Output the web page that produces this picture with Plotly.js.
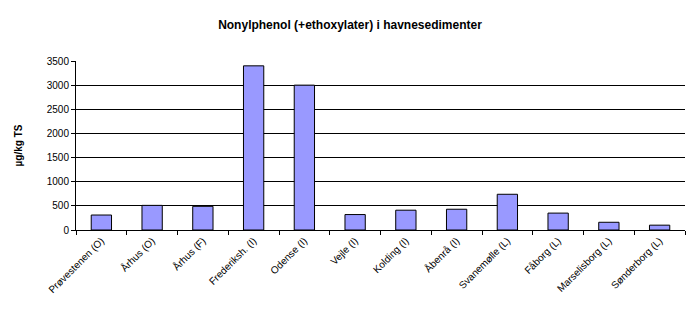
<!DOCTYPE html>
<html>
<head>
<meta charset="utf-8">
<script src="https://cdn.plot.ly/plotly-3.0.1.min.js"></script>
<style>html,body{margin:0;padding:0;background:#fff;}#chart{width:700px;height:315px;}</style>
</head>
<body>
<div id="chart"></div>
<script>
const categories = ["Prøvestenen (O)", "Århus (O)", "Århus (F)", "Frederiksh. (I)", "Odense (I)", "Vejle (I)", "Kolding (I)", "Åbenrå (I)", "Svanemølle (L)", "Fåborg (L)", "Marselisborg (L)", "Sønderborg (L)"];
const values = [310, 510, 490, 3400, 3000, 320, 410, 430, 740, 350, 160, 100];
const yTickVals = [0, 500, 1000, 1500, 2000, 2500, 3000, 3500];

const font = "Liberation Sans, Arial, sans-serif";
Plotly.newPlot("chart", [{
  type: "bar",
  x: categories,
  y: values,
  marker: {color: "#9999FF", line: {color: "#000000", width: 1}},
  hoverinfo: "none"
}], {
  width: 700, height: 315,
  margin: {l: 76, r: 15, t: 61, b: 85},
  paper_bgcolor: "#ffffff", plot_bgcolor: "#ffffff",
  bargap: 0.6,
  showlegend: false,
  title: {text: "<b>Nonylphenol (+ethoxylater) i havnesedimenter</b>", font: {family: font, size: 12, color: "#000"}, x: 0.5, xanchor: "center", y: 0.922, yanchor: "middle"},
  xaxis: {
    type: "category",
    tickangle: -45,
    tickfont: {family: font, size: 10, color: "#000"},
    ticks: "outside", ticklen: 4, tickcolor: "#000",
    tickson: "boundaries",
    showline: true, linecolor: "#000", linewidth: 1,
    showgrid: false, zeroline: false,
    range: [-0.5, 11.5]
  },
  yaxis: {
    range: [0, 3500],
    tickvals: yTickVals,
    ticktext: yTickVals.map(String),
    tickfont: {family: font, size: 10, color: "#000"},
    ticks: "outside", ticklen: 4, tickcolor: "#000",
    showline: true, linecolor: "#000", linewidth: 1,
    showgrid: true, gridcolor: "#000", gridwidth: 1,
    zeroline: false,
    title: {text: "<b>µg/kg TS</b>", font: {family: font, size: 10, color: "#000"}, standoff: 22}
  }
}, {staticPlot: true});
</script>
</body>
</html>
